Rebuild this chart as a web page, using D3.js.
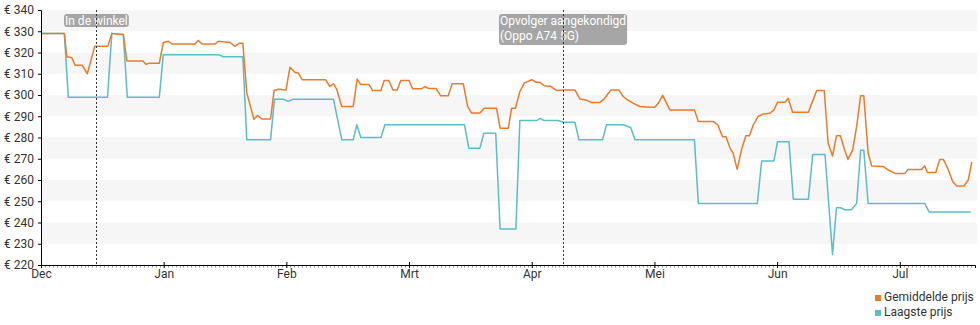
<!DOCTYPE html>
<html>
<head>
<meta charset="utf-8">
<script src="https://cdn.jsdelivr.net/npm/d3@7"></script>
<style>
  html, body { margin: 0; padding: 0; background: #fff; }
  svg { display: block; font-family: Roboto, "Noto Sans", sans-serif; }
</style>
</head>
<body>
<svg id="chart" width="980" height="325"></svg>
<script>
// ---- data (x = day offset from 1 Dec, month ticks every 31 units) ----
const monthLabels = ["Dec", "Jan", "Feb", "Mrt", "Apr", "Mei", "Jun", "Jul"];
const monthTicks = [0, 31, 62, 93, 124, 155, 186, 217];
const yTicks = [220, 230, 240, 250, 260, 270, 280, 290, 300, 310, 320, 330, 340];

const avgX = [0, 5.9, 6.5, 7.8, 8.6, 10.4, 11.7, 13.6, 16.9, 17.9, 20.8, 21.7, 25.8, 26.5, 27.5, 29.9,
  30.9, 32.1, 33.1, 38.9, 39.7, 40.7, 44, 44.8, 47.8, 49, 50.1, 51, 52, 53.8, 54.7, 55.8, 58,
  58.9, 60, 61.9, 62.9, 64.2, 65, 66, 71.9, 73, 73.9, 74.7, 76, 78.9, 79.9, 80.8, 82.9, 83.8,
  85.9, 86.7, 87.9, 88.9, 90, 90.9, 93, 93.9, 96.2, 97, 97.9, 99.8, 101, 102.9, 103.9, 106.7,
  107.8, 108.8, 110.9, 112, 115.1, 116, 118.1, 118.9, 119.9, 121, 122.1, 124, 125.1, 126.1,
  127.1, 128.8, 130.3, 132, 134.9, 136.2, 137.9, 139.1, 141.2, 142.3, 144, 146, 147.1, 148.4,
  149.6, 151.3, 153.9, 155.1, 156, 157.1, 158.9, 165.1, 166.1, 169.9, 171, 172.2, 173.1, 174.1,
  174.9, 175.9, 177, 178.1, 179, 180, 181.2, 182.5, 184.2, 185.2, 186.1, 188, 188.8, 189.9,
  193.9, 195.1, 196, 197.9, 198.9, 200, 201, 202, 202.9, 203.9, 205.1, 206.1, 207.1, 207.9,
  209, 209.9, 212.8, 214.1, 215.8, 218.3, 219.1, 222.5, 223.3, 224, 226.1, 227.1, 228, 229.1,
  230.4, 231.4, 233.2, 234.3, 235.2];
const avgY = [329, 329, 318, 317.5, 314, 314, 310, 323, 323, 329, 328.5, 316, 316, 314.5, 315, 315,
  324.7, 325.3, 324, 324, 325.7, 324, 324, 325.3, 324.7, 322.9, 324.4, 324.4, 301, 288.6, 290.4, 288.7, 288.7,
  302.1, 302.7, 302.3, 313, 310.6, 310.4, 307.2, 307.2, 304, 305.3, 302.8, 294.6, 294.6, 307.5, 304.9, 304.9, 302.1,
  302.1, 306.8, 306.8, 302.4, 302.4, 306.8, 306.8, 302.9, 302.9, 304, 303.1, 303.1, 299.6, 299.6, 305.3, 305.3,
  294.6, 291.5, 291.5, 293.8, 293.8, 284.4, 284.4, 293.8, 293.8, 301.6, 305.6, 307.2, 306, 306,
  304.4, 304.1, 302.1, 302.4, 302.4, 298.1, 297.5, 296.5, 296.5, 298.1, 302.4, 302.4, 299.3, 297.5,
  296.2, 294.6, 294.2, 294.2, 296.2, 299.8, 293, 293, 287.5, 287.5, 286, 280.4, 280.4, 275,
  272.6, 265, 274.2, 280.8, 280.8, 286, 289.9, 291.1, 291.4, 293, 296.6, 296.6, 298.5, 291.9,
  291.9, 297.7, 302.1, 302.1, 277.3, 271.3, 280.8, 280.8, 275, 269.7, 274.2, 285.2, 299.6, 299.6,
  272.6, 266.6, 266.4, 264.7, 263.1, 263.1, 265, 265, 266.6, 263.5, 263.5, 269.7, 269.7, 265.5,
  259.2, 257.2, 257.2, 260, 268.5];

const lowX = [0, 5.9, 6.9, 16.8, 17.9, 20, 20.8, 21.8, 29.9, 30.9, 44.8, 46.1, 51, 52, 58, 59, 61.2,
  62.5, 63.7, 73.9, 76, 78.9, 79.8, 80.8, 85.9, 86.9, 107, 108.1, 110.9, 111.9, 114.9, 116, 120,
  121, 125.3, 126.1, 127.1, 130.7, 132, 134.9, 135.9, 141.9, 142.9, 147.1, 149, 150.1, 165.1,
  166.1, 181, 182.1, 185.2, 186.1, 189, 190.1, 193.9, 195, 198.1, 200, 201, 202, 203.1, 204.8,
  206.1, 207.1, 207.9, 209, 223.3, 224.4, 234.9];
const lowY = [329, 329, 299, 299, 329, 328.5, 328.5, 299, 299, 319, 319, 318, 318, 279, 279, 298, 298,
  297, 298, 298, 279, 279, 286, 280, 280, 286, 286, 275, 275, 282, 282, 237, 237,
  288, 288, 289, 288, 288, 287.2, 287.2, 279, 279, 286, 286, 284.7, 279, 279,
  249, 249, 269, 269, 278, 278, 251, 251, 272, 272, 225, 247, 247, 246, 246,
  249, 274, 274, 249, 249, 245, 245];

const seriesNames = ["Gemiddelde prijs", "Laagste prijs"];
const seriesColors = ["#ea7a2c", "#5cbdc6"];

const annotationX = [13.9, 131.9];
const annotationText = [["In de winkel"], ["Opvolger aangekondigd", "(Oppo A74 5G)"]];

// ---- layout ----
const svg = d3.select("#chart");
const x = d3.scaleLinear().domain([0, 236]).range([41, 975]);
const y = d3.scaleLinear().domain([220, 340]).range([265, 10]);

// bands
const bandLows = yTicks.filter(v => v < 340 && ((v - 220) / 10) % 2 === 1);
svg.append("g").selectAll("rect").data(bandLows).join("rect")
  .attr("x", x(0)).attr("width", 977 - x(0))
  .attr("y", d => y(d + 10)).attr("height", d => y(d) - y(d + 10))
  .attr("fill", "#f6f6f6");

// lines
const line = d3.line().x(d => x(d[0])).y(d => y(d[1]));
const avgData = avgX.map((d, i) => [d, avgY[i]]);
const lowData = lowX.map((d, i) => [d, lowY[i]]);
svg.append("path").datum(lowData).attr("d", line)
  .attr("fill", "none").attr("stroke", seriesColors[1]).attr("stroke-width", 1.5).attr("stroke-linejoin", "round");
svg.append("path").datum(avgData).attr("d", line)
  .attr("fill", "none").attr("stroke", seriesColors[0]).attr("stroke-width", 1.5).attr("stroke-linejoin", "round");

// annotations
annotationX.forEach((ax, i) => {
  const lines = annotationText[i];
  const g = svg.append("g");
  const t = g.append("text").attr("font-size", 12).attr("fill", "#fff");
  lines.forEach((s, j) => {
    t.append("tspan").attr("x", 0).attr("y", 11 + j * 14.5).text(s);
  });
  const bb = t.node().getBBox();
  const w = bb.width + 2;
  const h = lines.length === 1 ? 13 : 31;
  const left = Math.round(x(ax) - w / 2);
  g.insert("rect", "text").attr("x", -1).attr("y", 0).attr("width", w).attr("height", h)
    .attr("rx", 3).attr("fill", "#9c9c9c").attr("fill-opacity", 0.9);
  g.attr("transform", `translate(${left + 1},14)`);
  svg.append("line")
    .attr("x1", Math.round(x(ax)) + 0.5).attr("x2", Math.round(x(ax)) + 0.5)
    .attr("y1", 10).attr("y2", 265)
    .attr("stroke", "#333").attr("stroke-width", 1).attr("stroke-dasharray", "2,2");
});

// y axis
const yAxis = svg.append("g").attr("transform", `translate(${x(0)},0)`)
  .call(d3.axisLeft(y).tickValues(yTicks).tickSize(3).tickPadding(4).tickFormat(d => "€ " + d));
yAxis.select(".domain").attr("stroke", "#000");
yAxis.selectAll("text").attr("font-size", 12).attr("fill", "#333").attr("font-family", "Roboto, sans-serif");

// x axis minor ticks (daily)
const minor = d3.range(0, 237, 1);
svg.append("g").selectAll("line").data(minor).join("line")
  .attr("x1", d => Math.round(x(d)) + 0.5).attr("x2", d => Math.round(x(d)) + 0.5)
  .attr("y1", 265).attr("y2", 267.5).attr("stroke", "#999").attr("stroke-width", 1);

const xAxis = svg.append("g").attr("transform", `translate(0,265)`)
  .call(d3.axisBottom(x).tickValues(monthTicks).tickSize(3).tickPadding(1)
    .tickFormat((d, i) => monthLabels[i]));
xAxis.select(".domain").attr("stroke", "#000");
xAxis.selectAll(".tick line").attr("y1", -3).attr("stroke", "#000");
xAxis.selectAll("text").attr("font-size", 12).attr("fill", "#333").attr("font-family", "Roboto, sans-serif");

// legend
const legend = svg.append("g").attr("transform", "translate(875,295)");
seriesNames.forEach((n, i) => {
  legend.append("rect").attr("x", 0).attr("y", i * 15).attr("width", 6).attr("height", 6)
    .attr("fill", seriesColors[i]);
  legend.append("text").attr("x", 9).attr("y", i * 15 + 6).attr("font-size", 12)
    .attr("fill", "#333").text(n);
});
</script>
</body>
</html>
